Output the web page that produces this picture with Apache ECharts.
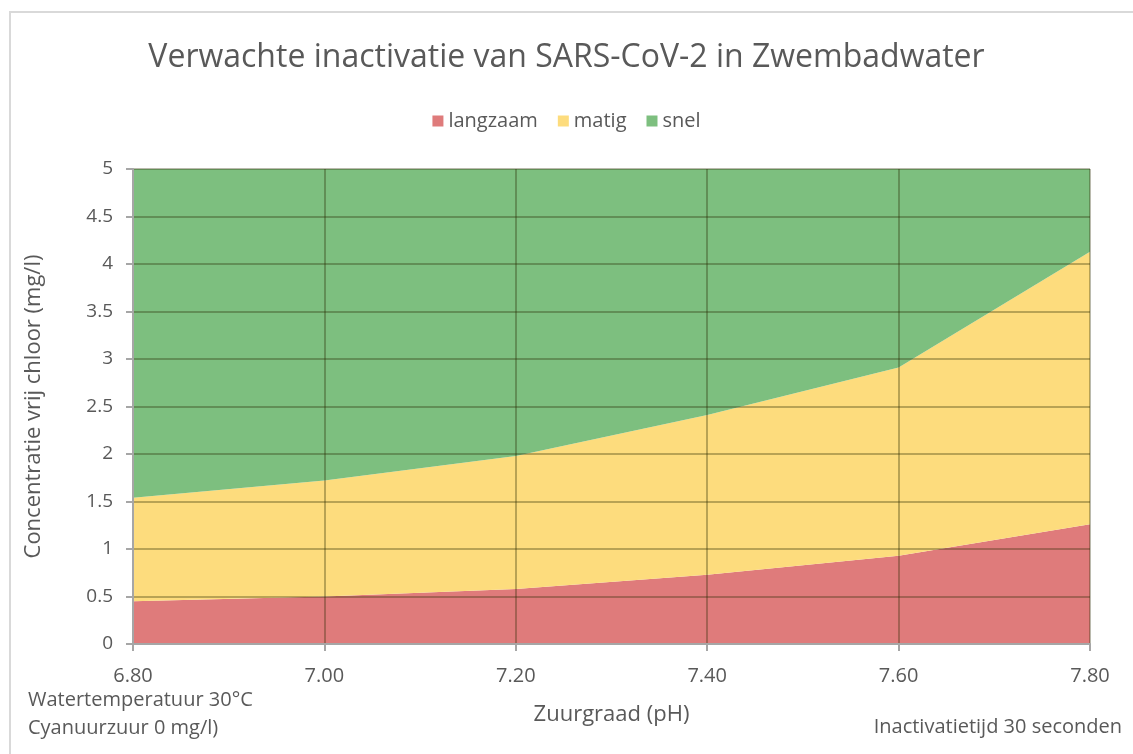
<!DOCTYPE html>
<html><head><meta charset="utf-8">
<script src="https://cdn.jsdelivr.net/npm/echarts@6/dist/echarts.min.js"></script>
<style>html,body{margin:0;padding:0;background:#fff}#c{width:1133px;height:754px}</style>
</head><body><div id="c"></div>
<script>
// Categories (pH)
const categories = ['6.80', '7.00', '7.20', '7.40', '7.60', '7.80'];
// Band thicknesses (stacked), mg/l
const langzaam = [0.45, 0.50, 0.58, 0.73, 0.93, 1.26];
const matig    = [1.09, 1.22, 1.40, 1.68, 1.98, 2.87];
const snel     = [3.46, 3.28, 3.02, 2.59, 2.09, 0.87];
const yTicks = ['0', '0.5', '1', '1.5', '2', '2.5', '3', '3.5', '4', '4.5', '5'];

const FONT = 'Open Sans';
const TXT = '#595959';
const chart = echarts.init(document.getElementById('c'), null, {renderer: 'canvas'});
const mk = (name, data, color) => ({
  name, type: 'line', stack: 'all', data, symbol: 'none', smooth: false,
  lineStyle: {width: 0}, itemStyle: {color},
  areaStyle: {color, opacity: 1}, z: 2
});
chart.setOption({
  animation: false,
  textStyle: {fontFamily: FONT},
  title: {
    text: 'Verwachte inactivatie van SARS-CoV-2 in Zwembadwater',
    left: 'center', top: 37,
    textStyle: {fontFamily: FONT, fontSize: 32, fontWeight: 'normal', color: TXT}
  },
  legend: {
    top: 106, left: 'center', itemWidth: 11, itemHeight: 11, itemGap: 20,
    icon: 'rect',
    textStyle: {fontFamily: FONT, fontSize: 20, color: TXT, padding: [0, 0, 0, 0]},
    data: ['langzaam', 'matig', 'snel']
  },
  grid: {left: 133, right: 43, top: 169, bottom: 110, containLabel: false},
  xAxis: {
    type: 'category', data: categories, boundaryGap: false, z: 5,
    name: 'Zuurgraad (pH)', nameLocation: 'middle', nameGap: 60,
    nameTextStyle: {fontFamily: FONT, fontSize: 22, color: TXT},
    axisLine: {lineStyle: {color: '#A6A6A6', width: 2}},
    axisTick: {show: true, alignWithLabel: true, length: 7, lineStyle: {color: '#A6A6A6', width: 2}},
    axisLabel: {fontFamily: FONT, fontSize: 20, color: TXT, margin: 22},
    splitLine: {show: true, lineStyle: {color: 'rgba(40,40,0,0.32)', width: 2}}
  },
  yAxis: {
    type: 'value', min: 0, max: 5, interval: 0.5, z: 5,
    name: 'Concentratie vrij chloor (mg/l)', nameLocation: 'middle', nameGap: 88, nameRotate: 90,
    nameTextStyle: {fontFamily: FONT, fontSize: 22, color: TXT},
    axisLine: {show: true, lineStyle: {color: '#A6A6A6', width: 2}},
    axisTick: {show: true, length: 7, lineStyle: {color: '#A6A6A6', width: 2}},
    axisLabel: {fontFamily: FONT, fontSize: 19, color: TXT, margin: 20,
      formatter: v => yTicks[Math.round(v * 2)]},
    splitLine: {show: true, lineStyle: {color: 'rgba(40,40,0,0.32)', width: 2}}
  },
  graphic: [
    {type: 'rect', shape: {x: 10, y: 12, width: 1300, height: 900}, style: {fill: 'none', stroke: '#D9D9D9', lineWidth: 2}, silent: true, z: -10},
    {type: 'text', left: 28, top: 690, style: {text: 'Watertemperatuur 30°C', font: '20px "Open Sans"', fill: TXT}},
    {type: 'text', left: 28, top: 718, style: {text: 'Cyanuurzuur 0 mg/l)', font: '20px "Open Sans"', fill: TXT}},
    {type: 'text', right: 11, top: 717, style: {text: 'Inactivatietijd 30 seconden', font: '20px "Open Sans"', fill: TXT}}
  ],
  series: [
    mk('langzaam', langzaam, '#DF7B7B'),
    mk('matig', matig, '#FDDC7D'),
    mk('snel', snel, '#7DBF7F')
  ]
});
</script></body></html>
